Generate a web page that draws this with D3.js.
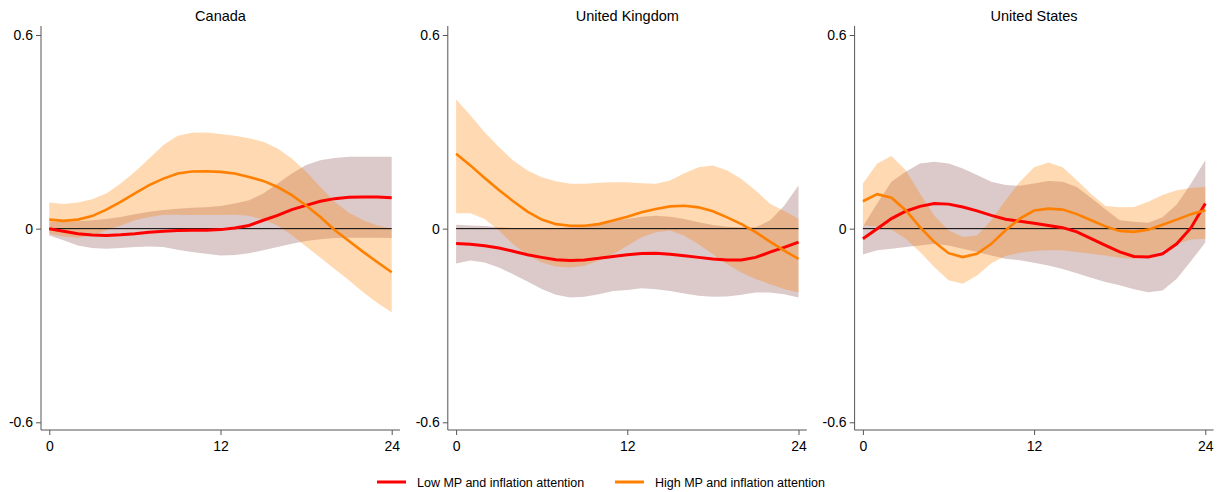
<!doctype html>
<html lang="en">
<head>
<meta charset="utf-8">
<title>Impulse responses by attention</title>
<style>
    body { margin: 0; background: #fff; }
    svg text { font-family: "Liberation Sans", Arial, sans-serif; fill: #000; }
</style>
</head>
<body>
<svg id="chart" width="1225" height="492"></svg>

<script src="https://cdn.jsdelivr.net/npm/d3@7/dist/d3.min.js"></script>
<script>

    // horizons 0..24
    let months = d3.range(0, 25);
    let panelNames = ["Canada", "United Kingdom", "United States"];
    let yTicks = [-0.6, 0, 0.6];
    let yTickLabels = ["-0.6", "0", "0.6"];
    let xTicks = [0, 12, 24];
    let seriesNames = ["Low MP and inflation attention", "High MP and inflation attention"];

    // Canada
    let canLowMid = [0, -0.008, -0.016, -0.02, -0.021, -0.019, -0.016, -0.011, -0.008, -0.006, -0.005, -0.005, -0.003, 0.002, 0.01, 0.026, 0.041, 0.059, 0.072, 0.085, 0.093, 0.097, 0.098, 0.098, 0.096];
    let canLowHi = [0.021, 0.021, 0.023, 0.026, 0.03, 0.036, 0.045, 0.052, 0.058, 0.062, 0.065, 0.066, 0.07, 0.078, 0.088, 0.109, 0.14, 0.171, 0.197, 0.212, 0.219, 0.223, 0.223, 0.223, 0.223];
    let canLowLo = [-0.021, -0.036, -0.052, -0.06, -0.062, -0.06, -0.057, -0.055, -0.057, -0.065, -0.072, -0.078, -0.083, -0.082, -0.076, -0.067, -0.057, -0.047, -0.038, -0.033, -0.029, -0.028, -0.028, -0.028, -0.029];
    let canHighMid = [0.028, 0.024, 0.028, 0.039, 0.059, 0.083, 0.109, 0.135, 0.155, 0.171, 0.177, 0.178, 0.176, 0.171, 0.16, 0.148, 0.129, 0.104, 0.072, 0.036, -0.004, -0.038, -0.072, -0.104, -0.135];
    let canHighHi = [0.081, 0.076, 0.081, 0.091, 0.109, 0.14, 0.176, 0.217, 0.259, 0.288, 0.297, 0.298, 0.293, 0.288, 0.28, 0.269, 0.248, 0.217, 0.176, 0.129, 0.083, 0.049, 0.026, 0.01, 0.0];
    let canHighLo = [-0.016, -0.024, -0.028, -0.021, -0.005, 0.01, 0.026, 0.036, 0.043, 0.043, 0.042, 0.042, 0.042, 0.043, 0.04, 0.028, 0.01, -0.02, -0.055, -0.09, -0.125, -0.16, -0.197, -0.23, -0.259];

    // United Kingdom
    let ukLowMid = [-0.046, -0.048, -0.053, -0.06, -0.07, -0.081, -0.089, -0.096, -0.099, -0.097, -0.092, -0.086, -0.081, -0.077, -0.076, -0.079, -0.084, -0.089, -0.094, -0.097, -0.097, -0.089, -0.073, -0.058, -0.042];
    let ukLowHi = [0.012, 0.01, 0.008, 0.004, 0.002, 0.001, 0.001, 0.002, 0.004, 0.009, 0.016, 0.024, 0.03, 0.037, 0.04, 0.037, 0.03, 0.02, 0.011, 0.006, 0.004, 0.004, 0.025, 0.071, 0.134];
    let ukLowLo = [-0.108, -0.099, -0.105, -0.12, -0.141, -0.164, -0.187, -0.205, -0.213, -0.211, -0.203, -0.193, -0.19, -0.185, -0.188, -0.193, -0.201, -0.208, -0.211, -0.21, -0.205, -0.198, -0.198, -0.203, -0.213];
    let ukHighMid = [0.232, 0.196, 0.157, 0.12, 0.085, 0.053, 0.028, 0.014, 0.009, 0.009, 0.014, 0.025, 0.037, 0.051, 0.061, 0.069, 0.071, 0.066, 0.054, 0.035, 0.014, -0.011, -0.04, -0.068, -0.094];
    let ukHighHi = [0.4, 0.351, 0.299, 0.253, 0.211, 0.18, 0.159, 0.147, 0.139, 0.139, 0.142, 0.144, 0.144, 0.141, 0.139, 0.149, 0.172, 0.19, 0.196, 0.18, 0.154, 0.118, 0.077, 0.055, 0.031];
    let ukHighLo = [0.048, 0.048, 0.03, -0.006, -0.048, -0.081, -0.105, -0.117, -0.12, -0.115, -0.099, -0.079, -0.053, -0.027, -0.011, -0.006, -0.022, -0.048, -0.079, -0.11, -0.136, -0.156, -0.172, -0.187, -0.198];

    // United States
    let usLowMid = [-0.031, 0, 0.031, 0.054, 0.069, 0.078, 0.076, 0.067, 0.055, 0.041, 0.029, 0.023, 0.017, 0.01, 0.003, -0.01, -0.031, -0.052, -0.072, -0.086, -0.088, -0.078, -0.047, 0.003, 0.078];
    let usLowHi = [0.007, 0.078, 0.145, 0.176, 0.202, 0.207, 0.202, 0.186, 0.166, 0.145, 0.135, 0.133, 0.14, 0.148, 0.145, 0.129, 0.095, 0.06, 0.026, 0.021, 0.018, 0.035, 0.075, 0.14, 0.212];
    let usLowLo = [-0.08, -0.067, -0.062, -0.057, -0.052, -0.047, -0.052, -0.062, -0.072, -0.083, -0.093, -0.098, -0.106, -0.114, -0.125, -0.138, -0.152, -0.165, -0.175, -0.188, -0.197, -0.192, -0.155, -0.1, -0.043];
    let usHighMid = [0.085, 0.107, 0.096, 0.057, 0.005, -0.041, -0.076, -0.088, -0.078, -0.047, -0.005, 0.031, 0.056, 0.062, 0.059, 0.045, 0.026, 0.007, -0.007, -0.01, -0.003, 0.012, 0.028, 0.045, 0.057];
    let usHighHi = [0.14, 0.202, 0.225, 0.181, 0.109, 0.041, -0.005, -0.026, -0.021, 0.026, 0.088, 0.145, 0.19, 0.205, 0.19, 0.15, 0.107, 0.07, 0.066, 0.067, 0.083, 0.104, 0.119, 0.126, 0.129];
    let usHighLo = [0.01, 0.007, -0.003, -0.031, -0.072, -0.119, -0.16, -0.171, -0.145, -0.107, -0.085, -0.075, -0.069, -0.067, -0.067, -0.072, -0.078, -0.083, -0.09, -0.093, -0.086, -0.067, -0.047, -0.034, -0.031];

    let panels = [
        {low: [canLowMid, canLowLo, canLowHi], high: [canHighMid, canHighLo, canHighHi]},
        {low: [ukLowMid, ukLowLo, ukLowHi], high: [ukHighMid, ukHighLo, ukHighHi]},
        {low: [usLowMid, usLowLo, usLowHi], high: [usHighMid, usHighLo, usHighHi]}
    ];

    let red = "#ff0000", orange = "#ff8000";
    let lowBand = "#8b4c4c", highBand = "#ff8000";

    let svg = d3.select("#chart");
    let panelStep = 406.8;

    let x = d3.scaleLinear().domain([0, 24]).range([49.3, 391.7]);
    let y = d3.scaleLinear().domain([-0.6, 0.6]).range([422.3, 35]);

    let line = d3.line().x(function (d, i) { return x(months[i]); }).y(function (d) { return y(d); });
    function area(lo, hi) {
        return d3.area()
            .x(function (d, i) { return x(months[i]); })
            .y0(function (d, i) { return y(lo[i]); })
            .y1(function (d, i) { return y(hi[i]); })(months);
    }

    panels.forEach(function (p, k) {
        let g = svg.append("g").attr("transform", "translate(" + (k * panelStep) + ",0)");

        g.append("text")
            .attr("x", (x(0) + x(24)) / 2).attr("y", 21)
            .attr("text-anchor", "middle").style("font-size", "14.5px")
            .text(panelNames[k]);

        // bands
        g.append("path").attr("d", area(p.low[1], p.low[2]))
            .attr("fill", lowBand).attr("fill-opacity", 0.3);
        g.append("path").attr("d", area(p.high[1], p.high[2]))
            .attr("fill", highBand).attr("fill-opacity", 0.3);

        // zero line
        g.append("line")
            .attr("x1", x(0)).attr("x2", x(24))
            .attr("y1", y(0)).attr("y2", y(0))
            .attr("stroke", "#000").attr("stroke-width", 1);

        g.append("path").attr("d", line(p.low[0]))
            .attr("fill", "none").attr("stroke", red).attr("stroke-width", 3);
        g.append("path").attr("d", line(p.high[0]))
            .attr("fill", "none").attr("stroke", orange).attr("stroke-width", 2.6);

        // axes
        let yAxis = g.append("g").attr("transform", "translate(41,0)")
            .call(d3.axisLeft(y).tickValues(yTicks).tickSize(5).tickPadding(3)
                .tickFormat(function (d, i) { return yTickLabels[i]; }));
        yAxis.select(".domain").attr("d", "M0,26V430");
        let xAxis = g.append("g").attr("transform", "translate(0,430)")
            .call(d3.axisBottom(x).tickValues(xTicks).tickSize(5).tickPadding(6));
        xAxis.select(".domain").attr("d", "M41,0H400");

        g.selectAll(".domain, .tick line").attr("stroke", "#555").attr("stroke-width", 1);
        g.selectAll(".tick text").style("font-size", "14px")
            .style("font-family", "'Liberation Sans', Arial, sans-serif").attr("fill", "#000");
    });

    // legend
    let legend = svg.append("g").attr("transform", "translate(0,482)");
    let legendX = [377, 615];
    [red, orange].forEach(function (c, i) {
        legend.append("line")
            .attr("x1", legendX[i]).attr("x2", legendX[i] + 29)
            .attr("y1", 0).attr("y2", 0)
            .attr("stroke", c).attr("stroke-width", 3);
        legend.append("text")
            .attr("x", legendX[i] + 40).attr("y", 5)
            .style("font-size", "12.5px")
            .text(seriesNames[i]);
    });

</script>
</body>
</html>
